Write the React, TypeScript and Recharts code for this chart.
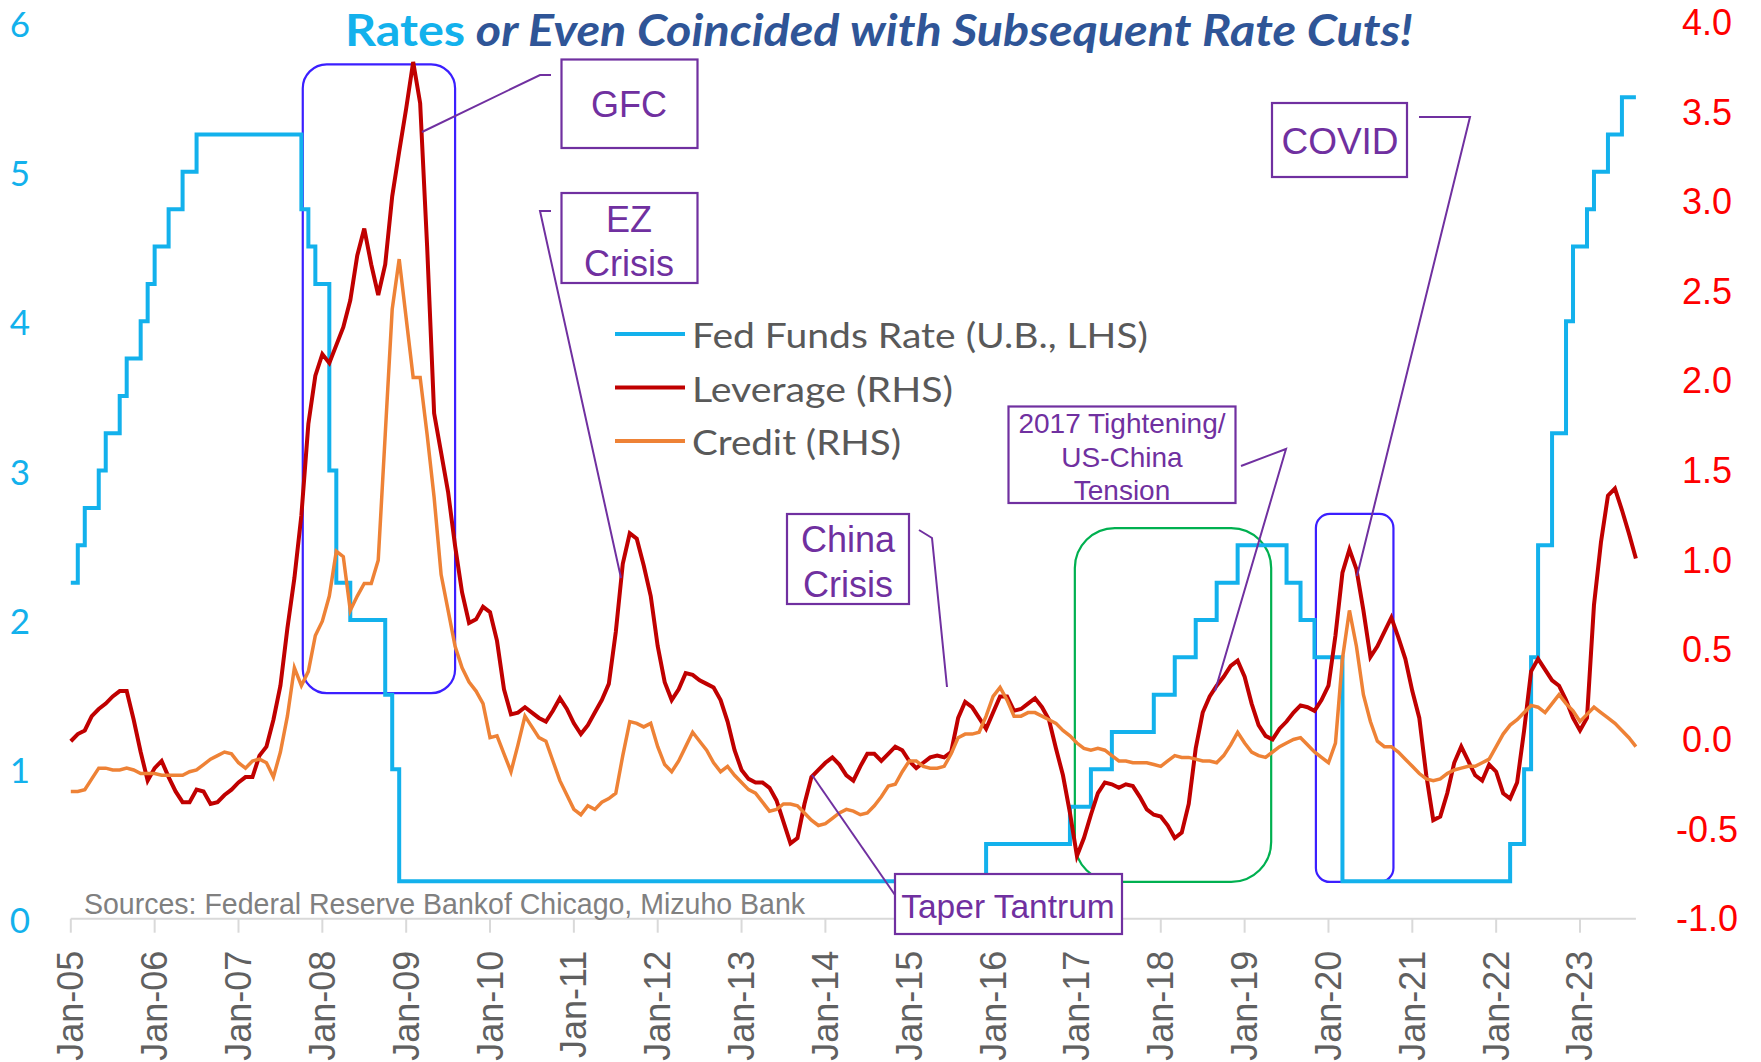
import React from 'react';
import { ComposedChart, Line, XAxis, YAxis, ReferenceArea, Legend } from 'recharts';

// Monthly data, Jan-05 (index 0) to Sep-23 (index 224)
const fedFunds: number[] = [
  2.25, 2.5, 2.75, 2.75, 3.0, 3.25, 3.25, 3.5, 3.75, 3.75, 4.0, 4.25, // 2005
  4.5, 4.5, 4.75, 4.75, 5.0, 5.0, 5.25, 5.25, 5.25, 5.25, 5.25, 5.25, // 2006
  5.25, 5.25, 5.25, 5.25, 5.25, 5.25, 5.25, 5.25, 5.25, 4.75, 4.5, 4.25, // 2007
  4.25, 3.0, 2.25, 2.25, 2.0, 2.0, 2.0, 2.0, 2.0, 1.5, 1.0, 0.25, // 2008
  0.25, 0.25, 0.25, 0.25, 0.25, 0.25, 0.25, 0.25, 0.25, 0.25, 0.25, 0.25, // 2009
  0.25, 0.25, 0.25, 0.25, 0.25, 0.25, 0.25, 0.25, 0.25, 0.25, 0.25, 0.25, // 2010
  0.25, 0.25, 0.25, 0.25, 0.25, 0.25, 0.25, 0.25, 0.25, 0.25, 0.25, 0.25, // 2011
  0.25, 0.25, 0.25, 0.25, 0.25, 0.25, 0.25, 0.25, 0.25, 0.25, 0.25, 0.25, // 2012
  0.25, 0.25, 0.25, 0.25, 0.25, 0.25, 0.25, 0.25, 0.25, 0.25, 0.25, 0.25, // 2013
  0.25, 0.25, 0.25, 0.25, 0.25, 0.25, 0.25, 0.25, 0.25, 0.25, 0.25, 0.25, // 2014
  0.25, 0.25, 0.25, 0.25, 0.25, 0.25, 0.25, 0.25, 0.25, 0.25, 0.25, 0.5, // 2015
  0.5, 0.5, 0.5, 0.5, 0.5, 0.5, 0.5, 0.5, 0.5, 0.5, 0.5, 0.75, // 2016
  0.75, 0.75, 1.0, 1.0, 1.0, 1.25, 1.25, 1.25, 1.25, 1.25, 1.25, 1.5, // 2017
  1.5, 1.5, 1.75, 1.75, 1.75, 2.0, 2.0, 2.0, 2.25, 2.25, 2.25, 2.5, // 2018
  2.5, 2.5, 2.5, 2.5, 2.5, 2.5, 2.25, 2.25, 2.0, 2.0, 1.75, 1.75, // 2019
  1.75, 1.75, 0.25, 0.25, 0.25, 0.25, 0.25, 0.25, 0.25, 0.25, 0.25, 0.25, // 2020
  0.25, 0.25, 0.25, 0.25, 0.25, 0.25, 0.25, 0.25, 0.25, 0.25, 0.25, 0.25, // 2021
  0.25, 0.25, 0.5, 0.5, 1.0, 1.75, 2.5, 2.5, 3.25, 3.25, 4.0, 4.5, // 2022
  4.5, 4.75, 5.0, 5.0, 5.25, 5.25, 5.5, 5.5, 5.5, // 2023
];

const leverage: number[] = [
  -0.01, 0.03, 0.05, 0.13, 0.17, 0.20, 0.24, 0.27, 0.27, 0.11, -0.07, -0.23,
  -0.16, -0.12, -0.21, -0.29, -0.35, -0.35, -0.28, -0.29, -0.36, -0.35, -0.31, -0.28,
  -0.24, -0.21, -0.21, -0.09, -0.04, 0.11, 0.30, 0.62, 0.90, 1.25, 1.76, 2.03,
  2.15, 2.10, 2.20, 2.30, 2.45, 2.70, 2.85, 2.65, 2.48, 2.65, 3.03, 3.28,
  3.52, 3.78, 3.55, 2.75, 1.82, 1.60, 1.38, 1.08, 0.82, 0.65, 0.67, 0.74,
  0.71, 0.55, 0.28, 0.14, 0.15, 0.18, 0.15, 0.12, 0.10, 0.16, 0.23, 0.17,
  0.09, 0.03, 0.08, 0.15, 0.22, 0.31, 0.60, 0.98, 1.15, 1.12, 0.97, 0.80,
  0.52, 0.32, 0.22, 0.28, 0.37, 0.36, 0.33, 0.31, 0.29, 0.22, 0.10, -0.06,
  -0.17, -0.22, -0.24, -0.24, -0.27, -0.34, -0.46, -0.58, -0.55, -0.36, -0.21, -0.17,
  -0.13, -0.10, -0.14, -0.20, -0.23, -0.15, -0.08, -0.08, -0.12, -0.08, -0.04, -0.06,
  -0.12, -0.16, -0.13, -0.10, -0.09, -0.10, -0.07, 0.12, 0.21, 0.18, 0.12, 0.06,
  0.15, 0.24, 0.24, 0.16, 0.17, 0.20, 0.23, 0.18, 0.11, -0.05, -0.20, -0.41,
  -0.65, -0.55, -0.42, -0.30, -0.24, -0.25, -0.27, -0.25, -0.26, -0.32, -0.39, -0.42,
  -0.43, -0.48, -0.55, -0.52, -0.36, -0.05, 0.15, 0.24, 0.30, 0.35, 0.41, 0.44,
  0.35, 0.20, 0.08, 0.02, 0.00, 0.06, 0.10, 0.15, 0.19, 0.18, 0.16, 0.22,
  0.30, 0.58, 0.93, 1.06, 0.95, 0.72, 0.46, 0.52, 0.60, 0.68, 0.57, 0.45,
  0.27, 0.12, -0.20, -0.45, -0.43, -0.30, -0.13, -0.04, -0.12, -0.20, -0.23, -0.14,
  -0.18, -0.30, -0.33, -0.24, 0.05, 0.38, 0.45, 0.39, 0.33, 0.30, 0.22, 0.12,
  0.05, 0.12, 0.75, 1.10, 1.36, 1.40, 1.28, 1.15, 1.01,
];

const credit: number[] = [
  -0.29, -0.29, -0.28, -0.22, -0.16, -0.16, -0.17, -0.17, -0.16, -0.17, -0.19, -0.19,
  -0.19, -0.20, -0.20, -0.20, -0.20, -0.18, -0.17, -0.14, -0.11, -0.09, -0.07, -0.08,
  -0.13, -0.16, -0.12, -0.11, -0.13, -0.21, -0.07, 0.13, 0.40, 0.30, 0.38, 0.58,
  0.66, 0.80, 1.05, 1.02, 0.72, 0.80, 0.87, 0.87, 1.00, 1.70, 2.40, 2.68,
  2.35, 2.02, 2.02, 1.70, 1.35, 0.92, 0.72, 0.52, 0.40, 0.32, 0.27, 0.20,
  0.01, 0.02, -0.08, -0.18, -0.03, 0.13, 0.07, 0.01, -0.01, -0.12, -0.23, -0.31,
  -0.39, -0.42, -0.37, -0.39, -0.35, -0.33, -0.30, -0.09, 0.10, 0.09, 0.07, 0.09,
  -0.04, -0.14, -0.18, -0.12, -0.04, 0.04, -0.01, -0.06, -0.13, -0.18, -0.15, -0.20,
  -0.24, -0.28, -0.30, -0.35, -0.40, -0.39, -0.36, -0.36, -0.37, -0.41, -0.45, -0.48,
  -0.47, -0.44, -0.41, -0.39, -0.40, -0.42, -0.41, -0.37, -0.32, -0.26, -0.25, -0.18,
  -0.12, -0.12, -0.15, -0.16, -0.16, -0.15, -0.08, 0.01, 0.03, 0.03, 0.04, 0.13,
  0.24, 0.29, 0.22, 0.13, 0.13, 0.15, 0.15, 0.13, 0.11, 0.09, 0.05, 0.02,
  -0.02, -0.05, -0.06, -0.05, -0.06, -0.09, -0.12, -0.12, -0.13, -0.13, -0.13, -0.14,
  -0.15, -0.12, -0.09, -0.10, -0.10, -0.11, -0.12, -0.12, -0.13, -0.09, -0.03, 0.04,
  -0.02, -0.07, -0.09, -0.10, -0.07, -0.04, -0.02, 0.00, 0.01, -0.03, -0.07, -0.10,
  -0.13, -0.02, 0.45, 0.72, 0.52, 0.25, 0.10, -0.01, -0.04, -0.04, -0.07, -0.11,
  -0.15, -0.19, -0.22, -0.23, -0.22, -0.19, -0.17, -0.16, -0.15, -0.15, -0.13, -0.11,
  -0.04, 0.03, 0.08, 0.11, 0.15, 0.19, 0.18, 0.15, 0.20, 0.25, 0.20, 0.16,
  0.10, 0.14, 0.18, 0.15, 0.12, 0.09, 0.05, 0.01, -0.04,
];

const xTickMonths = [0, 12, 24, 36, 48, 60, 72, 84, 96, 108, 120, 132, 144, 156, 168, 180, 192, 204, 216];
const xTickLabels = [
  'Jan-05', 'Jan-06', 'Jan-07', 'Jan-08', 'Jan-09', 'Jan-10', 'Jan-11', 'Jan-12', 'Jan-13', 'Jan-14',
  'Jan-15', 'Jan-16', 'Jan-17', 'Jan-18', 'Jan-19', 'Jan-20', 'Jan-21', 'Jan-22', 'Jan-23',
];
const leftTicks = [0, 1, 2, 3, 4, 5, 6];
const rightTicks = [-1, -0.5, 0, 0.5, 1, 1.5, 2, 2.5, 3, 3.5, 4];

const SERIES = {
  fed: { name: 'Fed Funds Rate (U.B., LHS)', color: '#13b1ec' },
  lev: { name: 'Leverage (RHS)', color: '#c00000' },
  cred: { name: 'Credit (RHS)', color: '#ee8236' },
};
const legendOrder = [SERIES.fed.name, SERIES.lev.name, SERIES.cred.name];
const legendTextWidths = [456, 261, 209];

const rows = fedFunds.map((v, i) => ({ m: i, fed: v, lev: leverage[i], cred: credit[i] }));

const PURPLE = '#7030a0';

const XTick = (props: any) => {
  const { x, y, payload } = props;
  const idx = xTickMonths.indexOf(payload.value);
  const label = idx >= 0 ? xTickLabels[idx] : '';
  const ty = y + 16;
  return (
    <text
      x={x}
      y={ty}
      transform={`rotate(-90 ${x} ${ty})`}
      textAnchor="end"
      dominantBaseline="central"
      fontFamily="'Liberation Sans', Arial, sans-serif"
      fontSize={36}
      fill="#606060"
    >
      {label}
    </text>
  );
};

const LeftTick = (props: any) => {
  const { y, payload } = props;
  return (
    <text x={20} y={y} textAnchor="middle" dominantBaseline="central" fontFamily="Lato, sans-serif" fontSize={35} fill="#13b1ec">
      {payload.value}
    </text>
  );
};

const RightTick = (props: any) => {
  const { y, payload } = props;
  return (
    <text x={1707} y={y} textAnchor="middle" dominantBaseline="central" fontFamily="'Liberation Sans', Arial, sans-serif" fontSize={36} fill="#ff0000">
      {Number(payload.value).toFixed(1)}
    </text>
  );
};

const LegendContent = (props: any) => {
  const payload: any[] = props.payload || [];
  const items = legendOrder.map((n) => payload.find((p) => p.value === n)).filter(Boolean);
  return (
    <svg width={560} height={160} style={{ overflow: 'visible' }}>
      {items.map((it: any, i: number) => {
        const cy = 24 + i * 53.5;
        return (
          <g key={it.value}>
            <line x1={3} x2={73} y1={cy} y2={cy} stroke={it.color} strokeWidth={4} />
            <text
              x={80}
              y={cy}
              dominantBaseline="central"
              fontFamily="Lato, sans-serif"
              fontSize={35}
              fill="#595959"
              textLength={legendTextWidths[i]}
              lengthAdjust="spacingAndGlyphs"
            >
              {it.value}
            </text>
          </g>
        );
      })}
    </svg>
  );
};

const roundedShape = (r: number, color: string) => (p: any) => (
  <rect x={p.x} y={p.y} width={p.width} height={p.height} rx={r} ry={r} fill="none" stroke={color} strokeWidth={2.2} />
);

const boxText = {
  fontFamily: "'Liberation Sans', Arial, sans-serif",
  fill: PURPLE,
  textAnchor: 'middle' as const,
  dominantBaseline: 'central' as const,
};

const Overlay = () => (
  <svg width={1761} height={1062} style={{ position: 'absolute', left: 0, top: 0, pointerEvents: 'none' }}>
    <text x={345} y={46} fontFamily="Lato, sans-serif" fontWeight="bold" fontSize={43} textLength={1068} lengthAdjust="spacingAndGlyphs">
      <tspan fill="#13b1ec">Rates</tspan>
      <tspan fill="#2f5597" fontStyle="italic"> or Even Coincided with Subsequent Rate Cuts!</tspan>
    </text>

    <text x={84} y={914} fontFamily="'Liberation Sans', Arial, sans-serif" fontSize={29} fill="#808080" textLength={721} lengthAdjust="spacingAndGlyphs">
      Sources: Federal Reserve Bankof Chicago, Mizuho Bank
    </text>

    {/* connectors */}
    <g fill="none" stroke={PURPLE} strokeWidth={2}>
      <polyline points="551,75 540,75 422,132" />
      <polyline points="551,211 540,211 621,578" />
      <polyline points="1419,117 1470,117 1357,576" />
      <polyline points="919,530 932,538 947,687" />
      <polyline points="1241,466 1286,449 1215,691" />
      <polyline points="895,895 812,775" />
    </g>

    {/* boxes */}
    <g fill="#ffffff" stroke={PURPLE} strokeWidth={2.2}>
      <rect x={561.5} y={59.5} width={136} height={88.5} />
      <rect x={561.5} y={193} width={136} height={90} />
      <rect x={1272} y={103} width={135} height={74} />
      <rect x={787} y={514} width={122} height={90} />
      <rect x={1008.5} y={406.5} width={227} height={96.5} />
      <rect x={895} y={874} width={227} height={60} />
    </g>
    <text x={629} y={104} fontSize={36} {...boxText}>GFC</text>
    <text x={629} y={219} fontSize={36} {...boxText}>EZ</text>
    <text x={629} y={263} fontSize={36} {...boxText}>Crisis</text>
    <text x={1340} y={141} fontSize={37} {...boxText}>COVID</text>
    <text x={848} y={539} fontSize={36} {...boxText}>China</text>
    <text x={848} y={584} fontSize={36} {...boxText}>Crisis</text>
    <text x={1122} y={423} fontSize={28} {...boxText}>2017 Tightening/</text>
    <text x={1122} y={457} fontSize={28} {...boxText}>US-China</text>
    <text x={1122} y={490} fontSize={28} {...boxText}>Tension</text>
    <text x={1008} y={906} fontSize={33.5} {...boxText}>Taper Tantrum</text>
  </svg>
);

export default function App() {
  return (
    <div style={{ position: 'absolute', left: 0, top: 0, width: 1761, height: 1062, background: '#ffffff', overflow: 'hidden' }}>
      <ComposedChart
        width={1761}
        height={1062}
        data={rows}
        margin={{ top: 22.5, right: 25.1, left: 10.8, bottom: 0 }}
      >
        <XAxis
          dataKey="m"
          type="number"
          domain={[0, 224]}
          ticks={xTickMonths}
          interval={0}
          height={143.3}
          axisLine={{ stroke: '#d9d9d9', strokeWidth: 2 }}
          tickLine={{ stroke: '#d9d9d9', strokeWidth: 2 }}
          tickSize={14}
          tick={<XTick />}
        />
        <YAxis yAxisId="left" domain={[0, 6]} ticks={leftTicks} axisLine={false} tickLine={false} width={60} tick={<LeftTick />} />
        <YAxis
          yAxisId="right"
          orientation="right"
          domain={[-1, 4]}
          ticks={rightTicks}
          axisLine={false}
          tickLine={false}
          width={100}
          tick={<RightTick />}
        />
        <ReferenceArea yAxisId="left" x1={33.2} x2={55.0} y1={1.51} y2={5.72} shape={roundedShape(24, '#3b1fff')} />
        <ReferenceArea yAxisId="left" x1={143.7} x2={171.8} y1={0.246} y2={2.615} shape={roundedShape(40, '#00b050')} />
        <ReferenceArea yAxisId="left" x1={178.2} x2={189.3} y1={0.246} y2={2.71} shape={roundedShape(14, '#3b1fff')} />
        <Line yAxisId="left" dataKey="fed" name={SERIES.fed.name} stroke={SERIES.fed.color} strokeWidth={4} dot={false} isAnimationActive={false} type="stepAfter" />
        <Line yAxisId="right" dataKey="lev" name={SERIES.lev.name} stroke={SERIES.lev.color} strokeWidth={4} dot={false} isAnimationActive={false} type="linear" />
        <Line yAxisId="right" dataKey="cred" name={SERIES.cred.name} stroke={SERIES.cred.color} strokeWidth={3.5} dot={false} isAnimationActive={false} type="linear" />
        <Legend
          layout="vertical"
          align="center"
          verticalAlign="middle"
          wrapperStyle={{ position: 'absolute', left: 612, top: 310, width: 560, height: 160 }}
          content={<LegendContent />}
        />
      </ComposedChart>
      <Overlay />
    </div>
  );
}
